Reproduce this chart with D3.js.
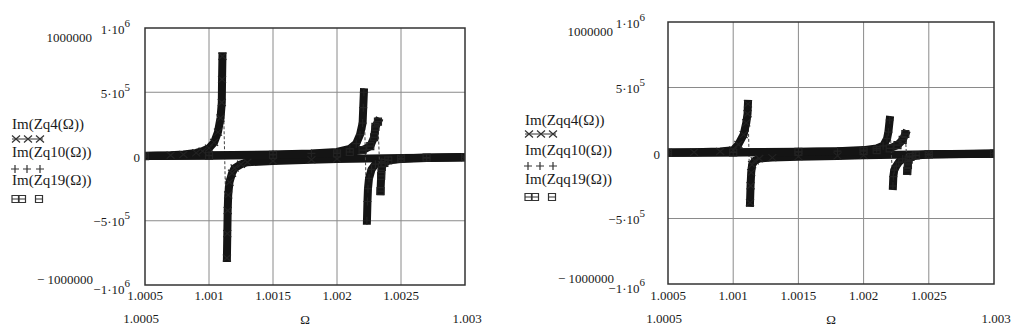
<!DOCTYPE html>
<html>
<head>
<meta charset="utf-8">
<script src="https://cdn.jsdelivr.net/npm/d3@7"></script>
<style>
  body { margin: 0; background: #fff; }
  svg { display: block; }
  text { font-family: "Liberation Serif", "Times New Roman", serif; fill: #1a1a1a; }
</style>
</head>
<body>
<div id="chart"></div>
<script>
const omegaTicks = [1.0005, 1.001, 1.0015, 1.002, 1.0025, 1.003];
const valueTicks = [1e6, 5e5, 0, -5e5, -1e6];
const sciLabels = [["1·10", "6"], ["5·10", "5"], ["0", ""], ["−5·10", "5"], ["−1·10", "6"]];

// left panel: Im(Zq..), every resonance split into the branch before and after the jump
const zq4Up = [[1.0005, 5000], [1.0007, 10000], [1.0008, 16000], [1.0009, 28000], [1.00095, 42000], [1.001, 65000],
  [1.00104, 110000], [1.00107, 190000], [1.00109, 300000], [1.0011, 420000], [1.001102, 600000], [1.001105, 780000]];
const zq4Down = [[1.00114, -790000], [1.001143, -600000], [1.001146, -420000], [1.00115, -300000], [1.00116, -200000],
  [1.00118, -130000], [1.0012, -90000], [1.00125, -60000], [1.0013, -45000], [1.0015, -35000], [1.0018, -25000],
  [1.002, -20000], [1.0025, -12000], [1.003, -8000]];
const zq10Up = [[1.0005, 4000], [1.001, 9000], [1.0015, 16000], [1.0018, 24000], [1.002, 35000], [1.0021, 60000],
  [1.00215, 100000], [1.00218, 170000], [1.0022, 260000], [1.002205, 380000], [1.00221, 500000]];
const zq10Down = [[1.002234, -500000], [1.002238, -350000], [1.002242, -250000], [1.00225, -170000], [1.00227, -100000],
  [1.0023, -60000], [1.00235, -40000], [1.0024, -30000], [1.0025, -20000], [1.0027, -12000], [1.003, -6000]];
const zq19Up = [[1.0005, 3000], [1.001, 6000], [1.0015, 12000], [1.002, 25000], [1.0021, 35000], [1.0022, 50000],
  [1.00226, 80000], [1.00229, 150000], [1.0023, 230000], [1.00232, 272000]];
const zq19Down = [[1.00234, -270000], [1.002345, -150000], [1.00235, -80000], [1.00237, -50000], [1.0024, -30000],
  [1.0025, -15000], [1.0027, -8000], [1.003, -4000]];

// right panel: Im(Zqq..)
const zqq4Up = [[1.0005, 3000], [1.0007, 6000], [1.0009, 12000], [1.001, 22000], [1.00104, 65000], [1.00108, 140000],
  [1.0011, 230000], [1.00111, 300000], [1.001113, 375000]];
const zqq4Down = [[1.001129, -380000], [1.001133, -250000], [1.001138, -150000], [1.001145, -90000], [1.001165, -60000],
  [1.0012, -42000], [1.0013, -35000], [1.0015, -28000], [1.0018, -22000], [1.002, -18000], [1.0025, -10000], [1.003, -6000]];
const zqq10Up = [[1.0005, 2000], [1.001, 5000], [1.0015, 9000], [1.0018, 14000], [1.002, 22000], [1.0021, 35000],
  [1.00215, 55000], [1.00218, 110000], [1.00219, 160000], [1.0022, 252000]];
const zqq10Down = [[1.002225, -252000], [1.002228, -180000], [1.002235, -130000], [1.00225, -100000], [1.00227, -70000],
  [1.0023, -45000], [1.00235, -30000], [1.0024, -20000], [1.0025, -12000], [1.003, -5000]];
const zqq19Up = [[1.0005, 2000], [1.001, 4000], [1.0015, 8000], [1.002, 15000], [1.0021, 22000], [1.0022, 35000],
  [1.00226, 60000], [1.0023, 100000], [1.00232, 145000]];
const zqq19Down = [[1.002335, -137000], [1.00234, -90000], [1.002345, -50000], [1.00236, -30000], [1.0024, -18000],
  [1.0025, -10000], [1.003, -4000]];

const leftNames = ["Im(Zq4(Ω))", "Im(Zq10(Ω))", "Im(Zq19(Ω))"];
const rightNames = ["Im(Zqq4(Ω))", "Im(Zqq10(Ω))", "Im(Zqq19(Ω))"];
const symbols = ["cross", "plus", "box"];

const width = 1024, height = 336;
const ink = "#141414";

const svg = d3.select("#chart").append("svg")
  .attr("width", width).attr("height", height)
  .style("background", "#fff");

const panels = [
  {
    left: 145, right: 465, top: 28, bottom: 285,
    names: leftNames, series: [[zq4Up, zq4Down], [zq10Up, zq10Down], [zq19Up, zq19Down]],
    legendX: 12, legendY: [129, 157, 185], markY: [139, 169, 199],
    sciX: 130, decX: 92, zeroX: 140
  },
  {
    left: 668, right: 994, top: 22, bottom: 284,
    names: rightNames, series: [[zqq4Up, zqq4Down], [zqq10Up, zqq10Down], [zqq19Up, zqq19Down]],
    legendX: 525, legendY: [125, 155, 184], markY: [134, 166, 197],
    sciX: 645, decX: 613, zeroX: 660
  }
];

function symbolPath(type) {
  if (type === "cross") return "M-4,-3.5L4,3.5M-4,3.5L4,-3.5";
  if (type === "plus") return "M-4,0H4M0,-4V4";
  return "M-3.5,-3.5H3.5V3.5H-3.5ZM-3.5,0H3.5";
}

function drawSymbol(g, type, x, y, color) {
  g.append("path")
    .attr("d", symbolPath(type))
    .attr("transform", `translate(${x},${y})`)
    .attr("fill", "none")
    .attr("stroke", color)
    .attr("stroke-width", 1.2);
}

panels.forEach((p, pi) => {
  const x = d3.scaleLinear().domain([1.0005, 1.003]).range([p.left, p.right]);
  const y = d3.scaleLinear().domain([-1e6, 1e6]).range([p.bottom, p.top]);
  const g = svg.append("g");

  const clipId = `clip-${pi}`;
  svg.append("clipPath").attr("id", clipId)
    .append("rect")
    .attr("x", p.left).attr("y", p.top - 6)
    .attr("width", p.right - p.left).attr("height", p.bottom - p.top + 12);

  // grid
  g.append("g")
    .selectAll("line")
    .data(omegaTicks.slice(1, -1))
    .enter()
    .append("line")
    .attr("x1", d => x(d)).attr("x2", d => x(d))
    .attr("y1", p.top).attr("y2", p.bottom)
    .attr("stroke", "#8a8a8a").attr("stroke-width", 1);
  g.append("g")
    .selectAll("line")
    .data(valueTicks.slice(1, -1))
    .enter()
    .append("line")
    .attr("y1", d => y(d)).attr("y2", d => y(d))
    .attr("x1", p.left).attr("x2", p.right)
    .attr("stroke", "#8a8a8a").attr("stroke-width", 1);

  const line = d3.line().x(d => x(d[0])).y(d => y(d[1]));
  const plot = g.append("g").attr("clip-path", `url(#${clipId})`);

  p.series.forEach((branches, si) => {
    // thin trace across the jump
    const up = branches[0], down = branches[1];
    plot.append("line")
      .attr("x1", x(up[up.length - 1][0])).attr("y1", y(up[up.length - 1][1]))
      .attr("x2", x(down[0][0])).attr("y2", y(down[0][1]))
      .attr("stroke", "#444").attr("stroke-width", 1)
      .attr("stroke-dasharray", "3,2");
    // dense symbol band
    branches.forEach(b => {
      plot.append("path")
        .datum(b)
        .attr("d", line)
        .attr("fill", "none")
        .attr("stroke", ink)
        .attr("stroke-width", 8)
        .attr("stroke-linejoin", "round")
        .attr("stroke-linecap", "square");
    });
  });

  p.series.forEach((branches, si) => {
    branches.forEach(b => {
      b.forEach(d => drawSymbol(plot, symbols[si], x(d[0]), y(d[1]), "#222"));
    });
  });

  // frame
  g.append("rect")
    .attr("x", p.left).attr("y", p.top)
    .attr("width", p.right - p.left).attr("height", p.bottom - p.top)
    .attr("fill", "none").attr("stroke", "#333").attr("stroke-width", 1.5);

  // y labels
  valueTicks.forEach((v, i) => {
    const lab = sciLabels[i];
    const isZero = v === 0;
    const dy = i === valueTicks.length - 1 ? 9 : 5.5;
    const t = g.append("text")
      .attr("x", isZero ? p.zeroX : p.sciX)
      .attr("y", y(v) + dy)
      .attr("text-anchor", "end")
      .style("font-size", "13px");
    t.append("tspan").text(lab[0]);
    if (lab[1]) {
      t.append("tspan").attr("dy", -7).style("font-size", "11px").text(lab[1]);
    }
  });
  g.append("text")
    .attr("x", p.decX).attr("y", y(1e6) + 14)
    .attr("text-anchor", "end").style("font-size", "13px")
    .text("1000000");
  g.append("text")
    .attr("x", p.decX + 1).attr("y", y(-1e6) - 1)
    .attr("text-anchor", "end").style("font-size", "13px")
    .text("− 1000000");

  // x labels
  g.append("g")
    .selectAll("text")
    .data(omegaTicks.slice(0, -1))
    .enter()
    .append("text")
    .attr("x", d => x(d))
    .attr("y", 300)
    .attr("text-anchor", "middle")
    .style("font-size", "13px")
    .text(d => d3.format(".4~f")(d));
  g.append("text")
    .attr("x", x(1.0005) - 4).attr("y", 323)
    .attr("text-anchor", "middle").style("font-size", "13px")
    .text("1.0005");
  g.append("text")
    .attr("x", x(1.003) + 2).attr("y", 323)
    .attr("text-anchor", "middle").style("font-size", "13px")
    .text("1.003");
  g.append("text")
    .attr("x", (p.left + p.right) / 2).attr("y", 324)
    .attr("text-anchor", "middle").style("font-size", "13px")
    .text("Ω");

  // legend
  p.names.forEach((name, i) => {
    g.append("text")
      .attr("x", p.legendX).attr("y", p.legendY[i])
      .style("font-size", "15px")
      .text(name);
    const lx = p.legendX, my = p.markY[i];
    if (symbols[i] === "cross") {
      g.append("line").attr("x1", lx).attr("x2", lx + 31).attr("y1", my).attr("y2", my)
        .attr("stroke", "#333").attr("stroke-width", 1);
      [4, 16, 28].forEach(o => drawSymbol(g, "cross", lx + o, my, "#333"));
    } else if (symbols[i] === "plus") {
      [3, 15, 28].forEach(o => drawSymbol(g, "plus", lx + o, my, "#333"));
    } else {
      [3.5, 10, 27].forEach(o => drawSymbol(g, "box", lx + o, my, "#333"));
    }
  });
});
</script>
</body>
</html>
